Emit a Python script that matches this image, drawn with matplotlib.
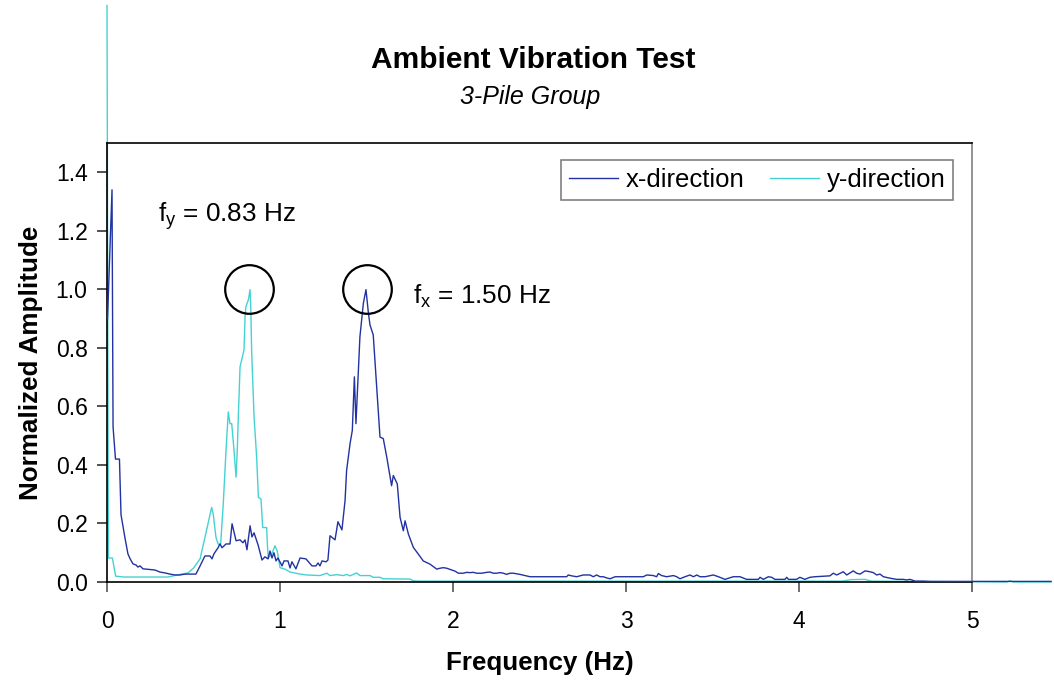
import numpy as np
import matplotlib.pyplot as plt

plt.rcParams['font.family'] = ['Liberation Sans', 'DejaVu Sans']

# x-direction spectrum (frequency in Hz, normalized amplitude)
freq_x = [0.003, 0.029, 0.035, 0.049, 0.072, 0.081, 0.104, 0.121, 0.133, 0.150,
          0.168, 0.179, 0.191, 0.208, 0.277, 0.306, 0.335, 0.364, 0.393, 0.422,
          0.451, 0.514, 0.538, 0.566, 0.595, 0.607, 0.618, 0.642, 0.653, 0.665,
          0.688, 0.711, 0.723, 0.746, 0.769, 0.786, 0.798, 0.809, 0.827, 0.838,
          0.850, 0.873, 0.896, 0.913, 0.931, 0.942, 0.954, 0.965, 0.977, 0.988,
          1.012, 1.023, 1.046, 1.058, 1.069, 1.092, 1.116, 1.150, 1.185, 1.208,
          1.220, 1.231, 1.243, 1.266, 1.277, 1.289, 1.318, 1.335, 1.358, 1.376,
          1.385, 1.405, 1.418, 1.430, 1.439, 1.462, 1.482, 1.497, 1.511, 1.520,
          1.539, 1.559, 1.578, 1.597, 1.617, 1.645, 1.655, 1.678, 1.694, 1.713,
          1.723, 1.742, 1.771, 1.800, 1.828, 1.867, 1.906, 1.925, 1.944, 1.964,
          1.993, 2.012, 2.031, 2.060, 2.079, 2.098, 2.118, 2.137, 2.166, 2.195,
          2.214, 2.233, 2.252, 2.272, 2.291, 2.310, 2.329, 2.349, 2.387, 2.445,
          2.503, 2.657, 2.666, 2.686, 2.715, 2.753, 2.792, 2.811, 2.830, 2.850,
          2.869, 2.888, 2.908, 2.937, 3.004, 3.100, 3.120, 3.158, 3.177, 3.187,
          3.206, 3.235, 3.274, 3.293, 3.312, 3.341, 3.370, 3.390, 3.409, 3.428,
          3.457, 3.505, 3.534, 3.572, 3.620, 3.659, 3.697, 3.765, 3.775, 3.794,
          3.823, 3.842, 3.861, 3.919, 3.929, 3.939, 3.986, 4.005, 4.034, 4.063,
          4.092, 4.179, 4.198, 4.218, 4.256, 4.276, 4.314, 4.333, 4.353, 4.382,
          4.410, 4.430, 4.449, 4.468, 4.488, 4.526, 4.565, 4.603, 4.622, 4.642,
          4.671, 4.719, 4.757, 4.969, 5.200, 5.457]
amp_x = [0.900, 1.340, 0.530, 0.420, 0.420, 0.230, 0.150, 0.096, 0.080, 0.062,
         0.058, 0.051, 0.055, 0.045, 0.041, 0.034, 0.031, 0.027, 0.024, 0.024,
         0.027, 0.027, 0.055, 0.089, 0.089, 0.079, 0.096, 0.117, 0.130, 0.117,
         0.130, 0.130, 0.199, 0.141, 0.144, 0.134, 0.144, 0.110, 0.192, 0.154,
         0.168, 0.127, 0.075, 0.086, 0.079, 0.106, 0.082, 0.100, 0.072, 0.082,
         0.055, 0.072, 0.072, 0.048, 0.069, 0.045, 0.082, 0.079, 0.055, 0.055,
         0.065, 0.055, 0.072, 0.069, 0.075, 0.158, 0.144, 0.206, 0.178, 0.278,
         0.381, 0.473, 0.518, 0.701, 0.541, 0.838, 0.953, 0.999, 0.919, 0.879,
         0.844, 0.667, 0.495, 0.490, 0.427, 0.329, 0.364, 0.335, 0.221, 0.175,
         0.209, 0.164, 0.118, 0.095, 0.072, 0.061, 0.044, 0.047, 0.049, 0.047,
         0.041, 0.037, 0.030, 0.030, 0.033, 0.032, 0.033, 0.030, 0.030, 0.033,
         0.034, 0.030, 0.030, 0.032, 0.030, 0.026, 0.030, 0.030, 0.026, 0.018,
         0.018, 0.018, 0.024, 0.021, 0.018, 0.024, 0.024, 0.018, 0.024, 0.018,
         0.018, 0.014, 0.011, 0.018, 0.018, 0.018, 0.024, 0.022, 0.018, 0.029,
         0.022, 0.018, 0.022, 0.018, 0.011, 0.018, 0.024, 0.018, 0.024, 0.018,
         0.018, 0.024, 0.018, 0.009, 0.018, 0.018, 0.009, 0.009, 0.016, 0.009,
         0.018, 0.016, 0.009, 0.009, 0.016, 0.009, 0.009, 0.016, 0.009, 0.016,
         0.018, 0.021, 0.030, 0.024, 0.035, 0.024, 0.038, 0.030, 0.027, 0.038,
         0.035, 0.032, 0.024, 0.027, 0.018, 0.013, 0.009, 0.009, 0.007, 0.009,
         0.003, 0.003, 0.002, 0.002, 0.002, 0.002]

# y-direction spectrum
freq_y = [0.000, 0.008, 0.031, 0.050, 0.098, 0.353, 0.405, 0.468, 0.499, 0.538,
          0.566, 0.605, 0.614, 0.630, 0.643, 0.657, 0.672, 0.688, 0.701, 0.711,
          0.721, 0.734, 0.746, 0.753, 0.759, 0.769, 0.792, 0.798, 0.803, 0.817,
          0.827, 0.831, 0.836, 0.850, 0.865, 0.875, 0.890, 0.900, 0.923, 0.927,
          0.932, 0.952, 0.971, 0.984, 1.000, 1.029, 1.058, 1.116, 1.154, 1.231,
          1.270, 1.289, 1.328, 1.366, 1.386, 1.405, 1.443, 1.462, 1.520, 1.539,
          1.578, 1.597, 1.751, 1.771, 1.809, 4.250, 4.300, 4.380, 4.420, 5.200,
          5.220, 5.240, 5.457]
amp_y = [1.970, 0.082, 0.082, 0.020, 0.017, 0.017, 0.024, 0.031, 0.047, 0.079,
         0.152, 0.255, 0.232, 0.152, 0.129, 0.129, 0.267, 0.450, 0.581, 0.541,
         0.541, 0.450, 0.358, 0.450, 0.564, 0.735, 0.793, 0.907, 0.941, 0.964,
         0.999, 0.941, 0.793, 0.564, 0.427, 0.289, 0.284, 0.186, 0.186, 0.129,
         0.083, 0.095, 0.124, 0.106, 0.049, 0.044, 0.034, 0.027, 0.024, 0.022,
         0.030, 0.022, 0.025, 0.022, 0.026, 0.021, 0.031, 0.022, 0.022, 0.016,
         0.016, 0.011, 0.010, 0.004, 0.003, 0.003, 0.008, 0.009, 0.003, 0.000,
         0.004, 0.000, 0.000]

# circled peaks
peak_f = [0.82, 1.50]
peak_a = [1.0, 1.0]

fig = plt.figure(figsize=(10.54, 6.83), dpi=100)
ax = fig.add_axes([107 / 1054, 1 - 582 / 683, 865 / 1054, 439 / 683])

ax.plot(freq_x, amp_x, color="#2232a0", lw=1.0, clip_on=False, label="x-direction", zorder=3)
ax.plot(freq_y, amp_y, color="#45d2d2", lw=1.0, clip_on=False, label="y-direction", zorder=2)
ax.plot(peak_f, peak_a, ls="none", marker="o", ms=35, mfc="none", mec="black",
        mew=1.6, zorder=4)

ax.set_xlim(0, 5)
ax.set_ylim(0, 1.5)
ax.set_xticks(range(6))
ax.set_yticks(np.arange(0, 1.41, 0.2))
ax.set_yticklabels([f"{v:.1f}" for v in np.arange(0, 1.41, 0.2)])
ax.tick_params(axis="x", direction="out", length=7, width=1.2, color="#555555",
               labelsize=16.5, pad=13)
ax.tick_params(axis="y", direction="out", length=7, width=1.2, color="#333333",
               labelsize=16.5, pad=7)
for sp in ("left", "bottom", "top"):
    ax.spines[sp].set_color("black")
    ax.spines[sp].set_linewidth(1.2)
ax.spines["right"].set_color("#808080")
ax.spines["right"].set_linewidth(1.2)

ax.set_xlabel("Frequency (Hz)", fontsize=18.7, fontweight="bold", labelpad=13)
ax.set_ylabel("Normalized Amplitude", fontsize=18.7, fontweight="bold", labelpad=9)

ax.text(0.295, 1.25, r"$\mathregular{f_y}$ = 0.83 Hz", fontsize=18.8, va="center")
ax.text(1.769, 0.975, r"$\mathregular{f_x}$ = 1.50 Hz", fontsize=18.8, va="center")

leg = ax.legend(loc="upper right", bbox_to_anchor=(0.978, 0.961), ncol=2,
                fontsize=18.5, frameon=True, fancybox=False, borderaxespad=0,
                handlelength=1.9, handletextpad=0.3, columnspacing=1.0,
                borderpad=0.3)
leg.get_frame().set_edgecolor("#606060")
leg.get_frame().set_linewidth(1.2)

fig.text(533 / 1054, 1 - 60 / 683, "Ambient Vibration Test", fontsize=21.5,
         fontweight="bold", ha="center", va="center")
fig.text(530 / 1054, 1 - 97 / 683, "3-Pile Group", fontsize=18, style="italic",
         ha="center", va="center")

fig.savefig("out.png", dpi=100, facecolor="white")
